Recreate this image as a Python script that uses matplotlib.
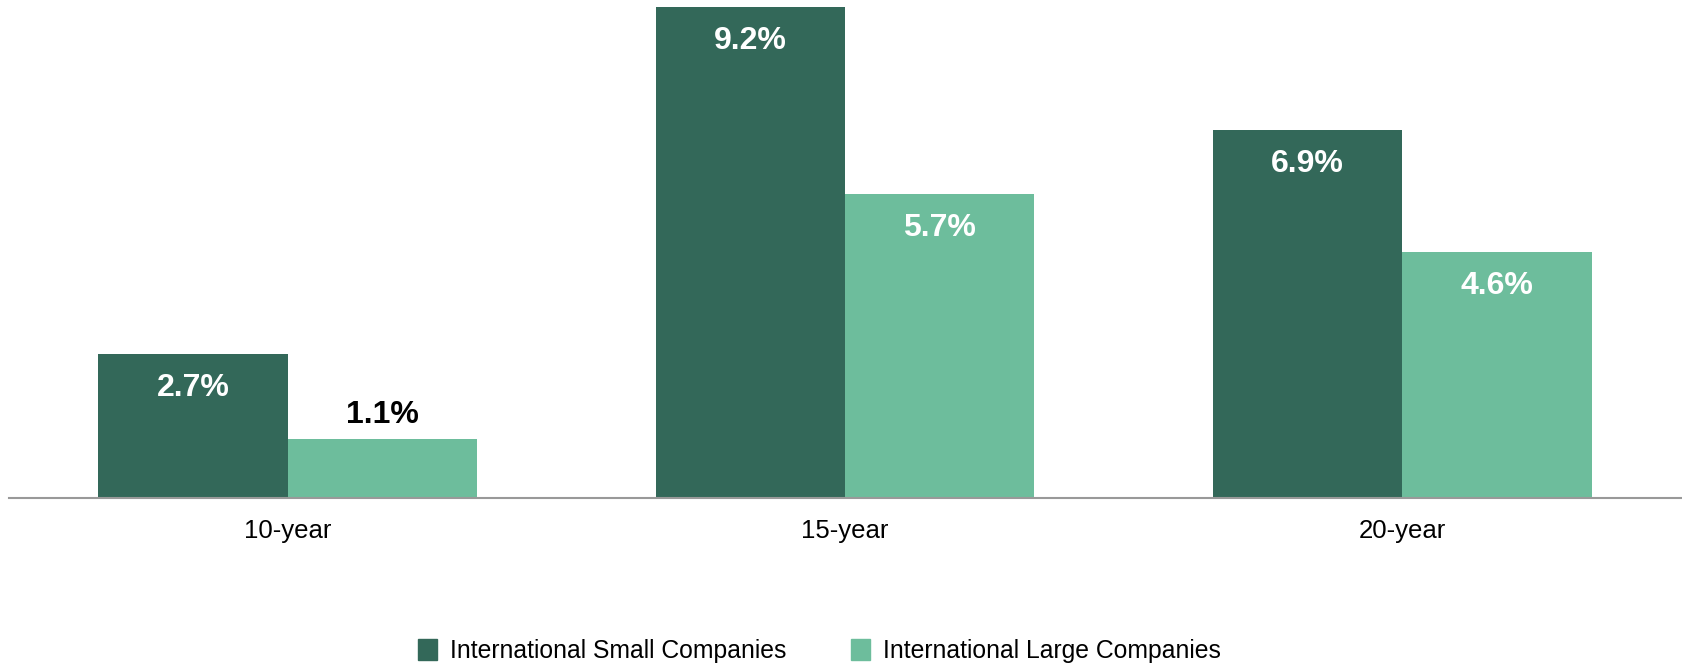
import numpy as np
import matplotlib.pyplot as plt
from matplotlib.patches import Patch

plt.rcParams['font.family'] = ['Liberation Sans', 'DejaVu Sans']

# Data
periods = ["10-year", "15-year", "20-year"]
small_cos = [2.7, 9.2, 6.9]
large_cos = [1.1, 5.7, 4.6]
series_names = ["International Small Companies", "International Large Companies"]

dark = "#336859"
light = "#6dbd9c"

fig = plt.figure(figsize=(16.83, 6.66), dpi=100)
ax = fig.add_axes([9 / 1683, 1 - 498 / 666, 1672 / 1683, 498 / 666])

x = np.arange(len(periods)) + 0.5
w = 0.34
b1 = ax.bar(x - w / 2, small_cos, w, color=dark, linewidth=0, label=series_names[0])
b2 = ax.bar(x + w / 2, large_cos, w, color=light, linewidth=0, label=series_names[1])

ax.set_xlim(0, 3)
ax.set_ylim(0, 9.33)

# value labels: inside bar in white, or above the bar when it's too short
for bars in (b1, b2):
    for bar in bars:
        h = bar.get_height()
        cx = bar.get_x() + bar.get_width() / 2
        if h > 2:
            ax.annotate(f"{h:.1f}%", (cx, h), xytext=(0, -34), textcoords="offset pixels",
                        ha="center", va="center", color="white", fontsize=23, fontweight="bold")
        else:
            ax.annotate(f"{h:.1f}%", (cx, h), xytext=(0, 24), textcoords="offset pixels",
                        ha="center", va="center", color="black", fontsize=23, fontweight="bold")

for s in ["top", "right", "left"]:
    ax.spines[s].set_visible(False)
ax.spines["bottom"].set_color("#999999")
ax.spines["bottom"].set_linewidth(1.5)
ax.set_yticks([])
ax.set_xticks(x)
ax.set_xticklabels(periods, fontsize=18.5)
ax.tick_params(axis="x", length=0, pad=15)

handles = [Patch(color=dark), Patch(color=light)]
fig.legend(handles, series_names, loc="center", bbox_to_anchor=(0.487, 0.0225), ncol=2,
           frameon=False, fontsize=17.8, handlelength=0.75, handleheight=0.9,
           handletextpad=0.55, columnspacing=2.6)

fig.savefig("out.png", dpi=100)
